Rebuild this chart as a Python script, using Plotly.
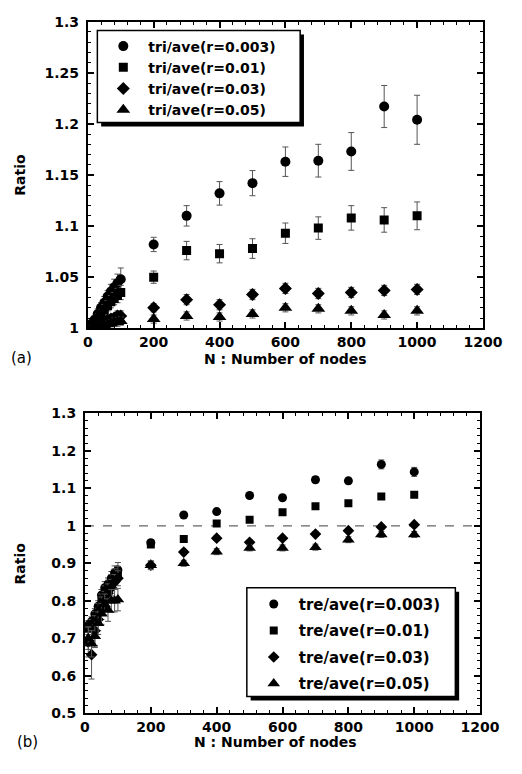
import plotly.graph_objects as go

# ---------------- data ----------------
N = [10, 20, 30, 40, 50, 60, 70, 80, 90, 100, 200, 300, 400, 500, 600, 700, 800, 900, 1000]

# (a) tri/ave
tri_r003 = [1.004, 1.008, 1.014, 1.020, 1.025, 1.031, 1.036, 1.040, 1.044, 1.048,
            1.082, 1.110, 1.132, 1.142, 1.163, 1.164, 1.173, 1.217, 1.204]
tri_r003_err = [0.004, 0.004, 0.005, 0.005, 0.006, 0.006, 0.007, 0.008, 0.009, 0.011,
                0.007, 0.010, 0.0115, 0.0123, 0.0144, 0.016, 0.0185, 0.0206, 0.024]
tri_r01 = [1.002, 1.006, 1.010, 1.014, 1.018, 1.022, 1.026, 1.029, 1.032, 1.035,
           1.050, 1.076, 1.073, 1.078, 1.093, 1.098, 1.108, 1.106, 1.110]
tri_r01_err = [0.003, 0.003, 0.004, 0.004, 0.005, 0.005, 0.006, 0.006, 0.007, 0.007,
               0.006, 0.009, 0.009, 0.0096, 0.010, 0.011, 0.012, 0.012, 0.0136]
tri_r03 = [1.001, 1.003, 1.004, 1.006, 1.007, 1.008, 1.009, 1.010, 1.012, 1.012,
           1.020, 1.028, 1.023, 1.033, 1.039, 1.034, 1.035, 1.037, 1.038]
tri_r03_err = [0.002, 0.002, 0.003, 0.003, 0.003, 0.004, 0.004, 0.004, 0.005, 0.005,
               0.004, 0.005, 0.005, 0.005, 0.005, 0.005, 0.005, 0.005, 0.005]
tri_r05 = [1.000, 1.001, 1.002, 1.003, 1.003, 1.004, 1.005, 1.006, 1.006, 1.007,
           1.009, 1.012, 1.011, 1.014, 1.020, 1.019, 1.017, 1.013, 1.017]
tri_r05_err = [0.002, 0.002, 0.002, 0.003, 0.003, 0.003, 0.003, 0.004, 0.004, 0.004,
               0.004, 0.004, 0.004, 0.004, 0.004, 0.004, 0.004, 0.004, 0.004]

# (b) tre/ave
tre_r003 = [0.735, 0.745, 0.765, 0.785, 0.815, 0.835, 0.845, 0.860, 0.875, 0.882,
            0.955, 1.029, 1.038, 1.081, 1.075, 1.123, 1.120, 1.164, 1.144]
tre_r003_err = [0.012, 0.012, 0.014, 0.015, 0.015, 0.016, 0.016, 0.018, 0.018, 0.020,
                0.008, 0.006, 0.006, 0.006, 0.006, 0.008, 0.008, 0.012, 0.012]
tre_r01 = [0.725, 0.735, 0.755, 0.775, 0.800, 0.820, 0.835, 0.850, 0.865, 0.872,
           0.950, 0.965, 1.006, 1.016, 1.036, 1.052, 1.060, 1.078, 1.083]
tre_r01_err = [0.015, 0.015, 0.016, 0.018, 0.018, 0.020, 0.020, 0.020, 0.020, 0.020,
               0.006, 0.005, 0.005, 0.005, 0.005, 0.005, 0.005, 0.006, 0.006]
tre_r03 = [0.690, 0.656, 0.720, 0.750, 0.780, 0.800, 0.820, 0.835, 0.850, 0.860,
           0.895, 0.930, 0.967, 0.956, 0.967, 0.978, 0.987, 0.997, 1.003]
tre_r03_err = [0.040, 0.065, 0.040, 0.030, 0.030, 0.025, 0.025, 0.022, 0.020, 0.020,
               0.010, 0.007, 0.006, 0.006, 0.006, 0.006, 0.006, 0.006, 0.006]
tre_r05 = [0.700, 0.685, 0.705, 0.740, 0.765, 0.790, 0.775, 0.800, 0.800, 0.803,
           0.895, 0.900, 0.931, 0.941, 0.941, 0.943, 0.963, 0.977, 0.977]
tre_r05_err = [0.030, 0.035, 0.030, 0.030, 0.028, 0.028, 0.030, 0.030, 0.030, 0.030,
               0.012, 0.008, 0.008, 0.008, 0.008, 0.008, 0.008, 0.008, 0.008]

names_a = ["tri/ave(r=0.003)", "tri/ave(r=0.01)", "tri/ave(r=0.03)", "tri/ave(r=0.05)"]
names_b = ["tre/ave(r=0.003)", "tre/ave(r=0.01)", "tre/ave(r=0.03)", "tre/ave(r=0.05)"]
symbols = ["circle", "square", "diamond", "triangle-up"]
sizes = [10, 9, 10, 12]

x_ticks = [0, 200, 400, 600, 800, 1000, 1200]
ya_ticks = [1, 1.05, 1.1, 1.15, 1.2, 1.25, 1.3]
ya_text = ["1", "1.05", "1.1", "1.15", "1.2", "1.25", "1.3"]
yb_ticks = [0.5, 0.6, 0.7, 0.8, 0.9, 1, 1.1, 1.2, 1.3]
yb_text = ["0.5", "0.6", "0.7", "0.8", "0.9", "1", "1.1", "1.2", "1.3"]

# ---------------- figure ----------------
W, H = 522, 774
FONT = "DejaVu Sans"
fig = go.Figure()

series_a = [(tri_r003, tri_r003_err), (tri_r01, tri_r01_err), (tri_r03, tri_r03_err), (tri_r05, tri_r05_err)]
series_b = [(tre_r003, tre_r003_err), (tre_r01, tre_r01_err), (tre_r03, tre_r03_err), (tre_r05, tre_r05_err)]

for i, (vals, errs) in enumerate(series_a):
    fig.add_trace(go.Scatter(
        x=N, y=vals, mode="markers", name=names_a[i],
        marker=dict(symbol=symbols[i], size=sizes[i], color="black"),
        error_y=dict(type="data", array=errs, visible=True, color="#555555", thickness=1, width=3),
        xaxis="x", yaxis="y", legend="legend", legendgroup="a%d" % i,
    ))
for i, (vals, errs) in enumerate(series_b):
    fig.add_trace(go.Scatter(
        x=N, y=vals, mode="markers", name=names_b[i],
        marker=dict(symbol=symbols[i], size=sizes[i] - 1, color="black"),
        error_y=dict(type="data", array=errs, visible=True, color="#555555", thickness=1, width=3),
        xaxis="x2", yaxis="y2", legend="legend2", legendgroup="b%d" % i,
    ))

tickfont = dict(family=FONT, size=14, color="black", weight="bold")

def xaxis_cfg(domain, anchor):
    return dict(domain=domain, anchor=anchor, range=[0, 1200], tickvals=x_ticks,
                ticks="inside", ticklen=6, tickwidth=1.5, tickcolor="black",
                minor=dict(dtick=40, tick0=0, ticks="inside", ticklen=3, tickwidth=1.2, tickcolor="black"),
                showline=True, linewidth=2, linecolor="black", mirror="ticks",
                showgrid=False, zeroline=False, tickfont=tickfont)

def yaxis_cfg(domain, anchor, rng, tv, tt, minor_dtick):
    return dict(domain=domain, anchor=anchor, range=rng, tickvals=tv, ticktext=tt,
                ticks="inside", ticklen=6, tickwidth=1.5, tickcolor="black",
                minor=dict(dtick=minor_dtick, tick0=rng[0], ticks="inside", ticklen=3, tickwidth=1.2, tickcolor="black"),
                showline=True, linewidth=2, linecolor="black", mirror="ticks",
                showgrid=False, zeroline=False, tickfont=tickfont, ticklabelstandoff=4)

ax_a = [87 / W, 502 / W]
ay_a = [1 - 327 / H, 1 - 14 / H]
ax_b = [84 / W, 499 / W]
ay_b = [1 - 720 / H, 1 - 414 / H]

# legend boxes (pixel) : left, top, right, bottom
box_a = (97, 23, 310, 117)
box_b = (254, 592, 473, 703)

shapes = []
for (l, t, r, b) in (box_a, box_b):
    shapes.append(dict(type="rect", xref="paper", yref="paper", x0=(l + 4) / W, x1=(r + 4) / W,
                       y0=1 - (b + 4) / H, y1=1 - (t + 4) / H, fillcolor="black", line=dict(width=0), layer="above"))
    shapes.append(dict(type="rect", xref="paper", yref="paper", x0=l / W, x1=r / W,
                       y0=1 - b / H, y1=1 - t / H, fillcolor="white", line=dict(color="black", width=1.5), layer="above"))
shapes.insert(0, dict(type="line", xref="x2 domain", yref="y2", x0=0, x1=1, y0=1, y1=1,
                      line=dict(color="#666666", width=1.2, dash="dash"), layer="below"))

titlefont = dict(family=FONT, size=14, color="black", weight="bold")
annotations = [
    dict(text="N : Number of nodes", x=(ax_a[0] + ax_a[1]) / 2, y=1 - 358 / H, xref="paper", yref="paper",
         showarrow=False, font=titlefont, xanchor="center", yanchor="middle"),
    dict(text="N : Number of nodes", x=284 / W, y=1 - 750 / H, xref="paper", yref="paper",
         showarrow=False, font=titlefont, xanchor="center", yanchor="middle"),
    dict(text="Ratio", x=16 / W, y=1 - 170 / H, xref="paper", yref="paper", textangle=-90,
         showarrow=False, font=titlefont, xanchor="center", yanchor="middle"),
    dict(text="Ratio", x=16 / W, y=1 - 567 / H, xref="paper", yref="paper", textangle=-90,
         showarrow=False, font=titlefont, xanchor="center", yanchor="middle"),
    dict(text="(a)", x=4 / W, y=1 - 357 / H, xref="paper", yref="paper",
         showarrow=False, font=dict(family=FONT, size=15, color="black"), xanchor="left", yanchor="middle"),
    dict(text="(b)", x=10 / W, y=1 - 750 / H, xref="paper", yref="paper",
         showarrow=False, font=dict(family=FONT, size=15, color="black"), xanchor="left", yanchor="middle"),
]

fig.update_layout(
    width=W, height=H, margin=dict(l=0, r=0, t=0, b=0),
    paper_bgcolor="white", plot_bgcolor="white",
    xaxis=xaxis_cfg(ax_a, "y"), yaxis=yaxis_cfg(ay_a, "x", [1, 1.3], ya_ticks, ya_text, 0.01),
    xaxis2=xaxis_cfg(ax_b, "y2"), yaxis2=yaxis_cfg(ay_b, "x2", [0.5, 1.3], yb_ticks, yb_text, 0.02),
    legend=dict(x=98 / W, y=1 - 23 / H, xanchor="left", yanchor="top", bgcolor="rgba(0,0,0,0)",
                borderwidth=0, font=dict(family=FONT, size=14, color="black", weight="bold"),
                itemwidth=40, traceorder="grouped", tracegroupgap=0),
    legend2=dict(x=256 / W, y=1 - 592 / H, xanchor="left", yanchor="top", bgcolor="rgba(0,0,0,0)",
                 borderwidth=0, font=dict(family=FONT, size=15, color="black", weight="bold"),
                 itemwidth=40, traceorder="grouped", tracegroupgap=4),
    shapes=shapes, annotations=annotations, showlegend=True,
)

fig.write_html("out.html")
